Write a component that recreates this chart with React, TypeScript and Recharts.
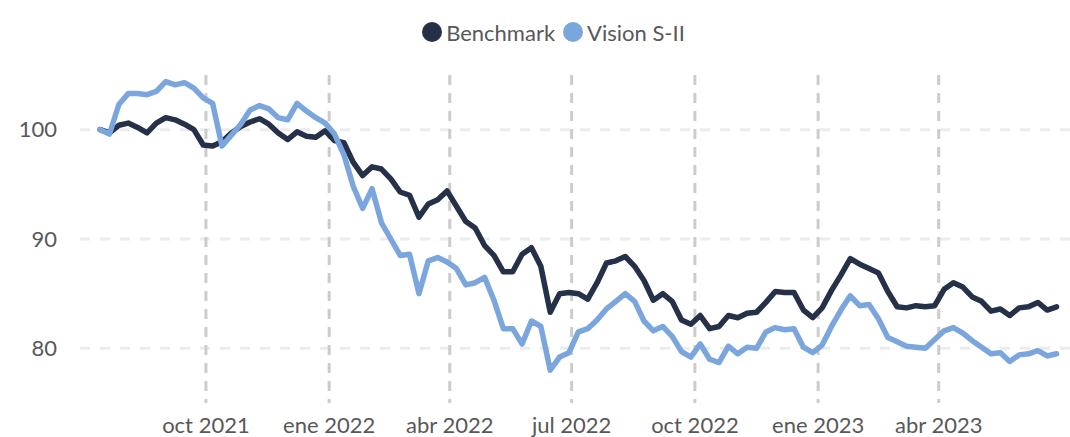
import { CartesianGrid, Legend, Line, LineChart, XAxis, YAxis } from "recharts";

const DAY = 24 * 60 * 60 * 1000;
const START = Date.UTC(2021, 6, 14);

// weekly closes, rebased to 100
const benchmark = [
  100.0, 99.7, 100.4, 100.6, 100.2, 99.7, 100.6, 101.1, 100.9, 100.5,
  100.0, 98.6, 98.5, 98.9, 99.7, 100.3, 100.7, 101.0, 100.5, 99.7,
  99.1, 99.8, 99.4, 99.3, 99.9, 99.0, 98.8, 97.0, 95.8, 96.6,
  96.4, 95.5, 94.3, 94.0, 92.0, 93.2, 93.6, 94.4, 93.0, 91.6,
  91.0, 89.4, 88.5, 87.0, 87.0, 88.6, 89.2, 87.5, 83.3, 85.0,
  85.1, 85.0, 84.5, 86.0, 87.8, 88.0, 88.4, 87.5, 86.2, 84.4,
  85.0, 84.3, 82.6, 82.2, 83.0, 81.8, 82.0, 83.0, 82.8, 83.2,
  83.3, 84.2, 85.2, 85.1, 85.1, 83.5, 82.8, 83.7, 85.3, 86.7,
  88.2, 87.7, 87.3, 86.9, 85.2, 83.8, 83.7, 83.9, 83.8, 83.9,
  85.4, 86.0, 85.6, 84.7, 84.3, 83.4, 83.6, 83.0, 83.7, 83.8,
  84.2, 83.5, 83.8,
];

const visionS2 = [
  100.0, 99.6, 102.3, 103.3, 103.3, 103.2, 103.5, 104.4, 104.1, 104.3,
  103.8, 102.9, 102.4, 98.5, 99.5, 100.5, 101.8, 102.2, 101.9, 101.1,
  100.9, 102.4, 101.7, 101.1, 100.6, 99.6, 97.7, 94.8, 92.8, 94.6,
  91.5, 90.0, 88.5, 88.6, 85.0, 88.0, 88.3, 87.9, 87.3, 85.8,
  86.0, 86.5, 84.4, 81.8, 81.8, 80.4, 82.5, 82.0, 78.0, 79.2,
  79.6, 81.5, 81.8, 82.6, 83.6, 84.3, 85.0, 84.3, 82.5, 81.6,
  82.0, 81.1, 79.7, 79.2, 80.4, 79.0, 78.7, 80.2, 79.5, 80.1,
  80.0, 81.5, 81.9, 81.7, 81.8, 80.1, 79.6, 80.3, 82.0, 83.5,
  84.8, 83.9, 84.0, 82.7, 81.0, 80.6, 80.2, 80.1, 80.0, 80.8,
  81.6, 81.9, 81.4, 80.7, 80.1, 79.5, 79.6, 78.8, 79.4, 79.5,
  79.8, 79.3, 79.5,
];

const monthNames = ["ene", "feb", "mar", "abr", "may", "jun", "jul", "ago", "sep", "oct", "nov", "dic"];
const quarterTicks = [
  Date.UTC(2021, 9, 1),
  Date.UTC(2022, 0, 1),
  Date.UTC(2022, 3, 1),
  Date.UTC(2022, 6, 1),
  Date.UTC(2022, 9, 1),
  Date.UTC(2023, 0, 1),
  Date.UTC(2023, 3, 1),
];
const yTicks = [80, 90, 100];

const series = [
  { key: "benchmark", name: "Benchmark", color: "#253049" },
  { key: "vision", name: "Vision S-II", color: "#7ba6dd" },
];

const data = benchmark.map((b, i) => ({
  date: START + i * 7 * DAY,
  benchmark: b,
  vision: visionS2[i],
}));

const font = "Lato, 'Noto Sans', sans-serif";
const textColor = "#585858";

const fmtQuarter = (t: number) => {
  const d = new Date(t);
  return `${monthNames[d.getUTCMonth()]} ${d.getUTCFullYear()}`;
};

function LegendRow() {
  return (
    <div
      style={{
        display: "flex",
        justifyContent: "center",
        alignItems: "center",
        height: 28,
        paddingLeft: 45,
        fontFamily: font,
        fontSize: 22,
        color: textColor,
      }}
    >
      {series.map((s) => (
        <div key={s.key} style={{ display: "flex", alignItems: "center", marginRight: 8 }}>
          <span
            style={{
              width: 20,
              height: 20,
              borderRadius: "50%",
              background: s.color,
              display: "inline-block",
              marginRight: 4,
            }}
          />
          <span>{s.name}</span>
        </div>
      ))}
    </div>
  );
}

export default function App() {
  return (
    <div style={{ position: "absolute", left: 0, top: 0, width: 1070, height: 437, background: "#fff" }}>
      <LineChart width={1070} height={437} data={data} margin={{ top: 47, right: 0, bottom: 4, left: 0 }}>
        <CartesianGrid
          horizontal
          vertical={false}
          syncWithTicks
          stroke="#ececec"
          strokeWidth={3}
          strokeDasharray="10 10"
        />
        <CartesianGrid
          horizontal={false}
          vertical
          syncWithTicks
          stroke="#cccccc"
          strokeWidth={3}
          strokeDasharray="10 8"
        />
        <XAxis
          dataKey="date"
          type="number"
          scale="time"
          domain={[Date.UTC(2021, 5, 29), Date.UTC(2023, 6, 8)]}
          ticks={quarterTicks}
          tickFormatter={fmtQuarter}
          axisLine={false}
          tickLine={false}
          tickMargin={8}
          height={30}
          tick={{ fill: textColor, fontSize: 22, fontFamily: font }}
        />
        <YAxis
          domain={[75, 105]}
          ticks={yTicks}
          axisLine={false}
          tickLine={false}
          tickMargin={17}
          width={80}
          tick={{ fill: textColor, fontSize: 22, fontFamily: font }}
        />
        <Legend verticalAlign="top" wrapperStyle={{ top: 18, left: 0, width: 1070 }} content={() => <LegendRow />} />
        {series.map((s) => (
          <Line
            key={s.key}
            dataKey={s.key}
            name={s.name}
            type="linear"
            stroke={s.color}
            strokeWidth={5.5}
            strokeLinejoin="round"
            strokeLinecap="round"
            dot={false}
            isAnimationActive={false}
          />
        ))}
      </LineChart>
    </div>
  );
}
